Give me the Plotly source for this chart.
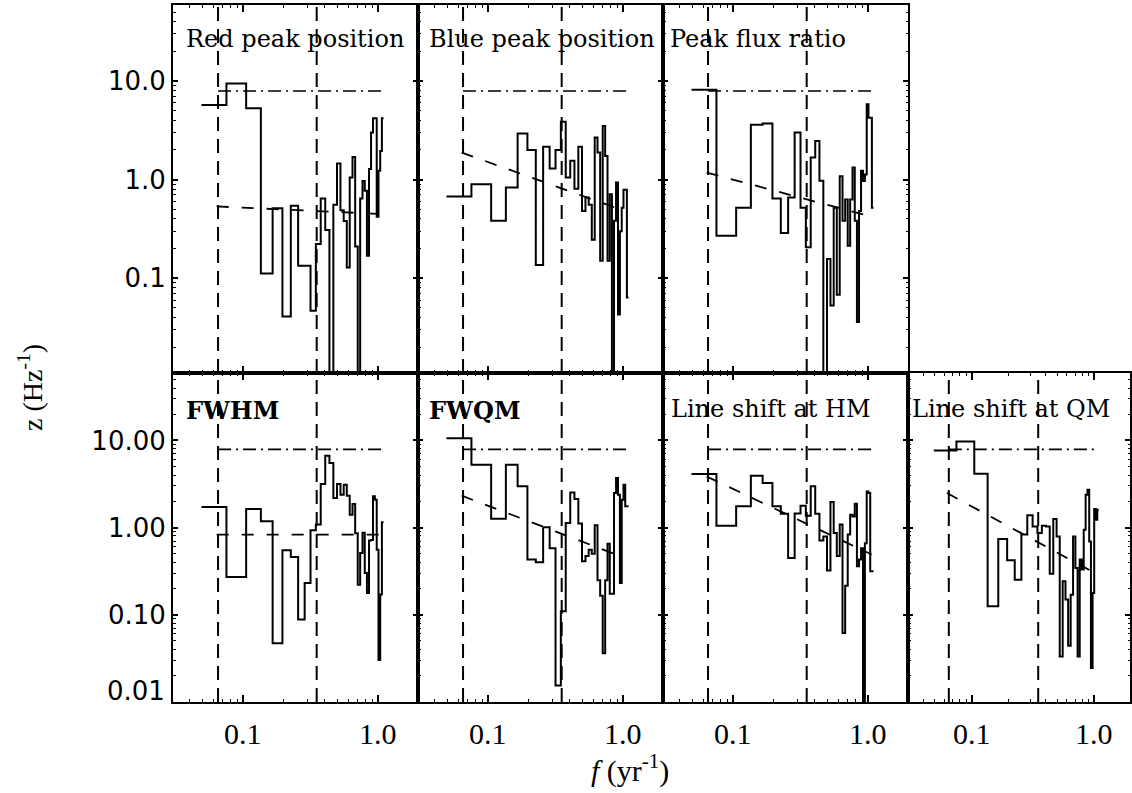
import math
import plotly.graph_objects as go

W, H = 1132, 793

# ---------------- data ----------------
freq = [0.06, 0.09, 0.12, 0.15, 0.18, 0.21, 0.24, 0.27, 0.30, 0.33,
        0.36, 0.39, 0.42, 0.45, 0.48, 0.51, 0.54, 0.57, 0.60, 0.63,
        0.66, 0.69, 0.72, 0.75, 0.78, 0.81, 0.84, 0.87, 0.90, 0.93,
        0.96, 0.99, 1.02, 1.05, 1.08]

red_peak = [5.7, 9.4, 5.3, 0.112, 0.514, 0.041, 0.543, 0.134, 0.134, 0.047,
            0.222, 0.644, 0.308, 0.004, 0.556, 1.46, 0.49, 0.38, 0.129, 1.05,
            1.70, 0.21, 0.004, 0.644, 0.97, 0.77, 0.169, 1.28, 3.0, 4.19,
            4.2, 0.42, 1.23, 1.95, 4.19]
blue_peak = [0.674, 0.90, 0.383, 0.83, 2.93, 2.0, 0.136, 2.16, 1.30, 2.0,
             3.87, 1.05, 1.55, 0.81, 2.16, 0.48, 0.66, 0.556, 0.246, 2.67,
             1.88, 0.151, 3.5, 1.74, 0.151, 0.71, 0.004, 0.383, 0.935, 0.043,
             0.30, 0.52, 0.79, 0.79, 0.064]
peak_ratio = [8.17, 0.27, 0.52, 3.59, 3.7, 0.644, 0.287, 0.66, 3.0, 0.52,
              0.206, 1.68, 2.47, 0.973, 0.004, 0.157, 0.053, 0.52, 0.068, 1.08,
              0.383, 0.63, 0.214, 0.63, 1.33, 0.383, 0.036, 0.48, 1.23, 0.97,
              1.13, 5.8, 4.25, 4.25, 0.52]
fwhm = [1.72, 0.27, 1.63, 1.18, 0.047, 0.547, 0.459, 0.088, 0.231, 0.93,
        1.08, 3.16, 6.67, 5.5, 2.18, 3.16, 2.38, 3.1, 2.32, 1.40,
        1.86, 0.86, 0.22, 0.51, 0.87, 0.30, 0.177, 0.71, 0.72, 2.28,
        2.09, 0.557, 0.030, 0.17, 1.15]
fwqm = [10.6, 5.26, 1.26, 5.26, 2.97, 0.43, 0.40, 1.01, 0.58, 0.0153,
        0.109, 1.13, 2.53, 2.12, 1.11, 0.41, 0.47, 0.557, 0.50, 1.06,
        0.248, 0.165, 0.036, 0.248, 0.65, 0.174, 0.174, 2.49, 3.7, 2.38,
        0.23, 2.08, 3.1, 1.75, 1.75]
shift_hm = [4.11, 1.05, 1.75, 3.93, 3.24, 1.75, 1.44, 0.447, 1.45, 1.78,
            1.37, 2.97, 1.44, 0.71, 0.79, 0.32, 1.96, 0.865, 0.47, 1.08,
            0.0616, 0.215, 0.83, 1.40, 1.34, 1.87, 0.358, 0.43, 0.58, 0.004,
            0.66, 2.60, 2.49, 0.314, 0.314]
shift_qm = [7.67, 9.74, 4.15, 0.125, 0.738, 0.42, 0.252, 0.83, 1.38, 1.03,
            0.865, 1.05, 1.03, 0.295, 1.25, 0.79, 0.033, 0.241, 0.149, 0.044,
            0.169, 0.79, 0.343, 0.033, 0.43, 0.33, 0.944, 2.38, 2.72, 0.69,
            0.0244, 0.177, 1.63, 1.23, 1.60]

titles = ["Red peak position", "Blue peak position", "Peak flux ratio",
          "<b>FWHM</b>", "<b>FWQM</b>", "Line shift at HM", "Line shift at QM"]
series = [red_peak, blue_peak, peak_ratio, fwhm, fwqm, shift_hm, shift_qm]

# power-law fit lines: end points (f, z)
fit_f = [[0.0635, 1.089], [0.0635, 0.946], [0.0635, 1.0], [0.0635, 1.089],
         [0.0635, 0.894], [0.0635, 1.06], [0.0627, 0.993]]
fit_z = [[0.535, 0.447], [1.88, 0.50], [1.18, 0.43], [0.83, 0.83],
         [2.32, 0.487], [3.86, 0.49], [2.49, 0.306]]

vlines_f = [0.065, 0.35]          # vertical dashed lines
level_f = [0.065, 1.09]           # dash-dot significance level
level_z = 7.9

x_ticks = [0.1, 1.0]
x_ticktext = ["0.1", "1.0"]
y_ticks_top = [0.1, 1.0, 10.0]
y_ticktext_top = ["0.1", "1.0", "10.0"]
y_ticks_bot = [0.01, 0.1, 1.0, 10.0]
y_ticktext_bot = ["", "0.10", "1.00", "10.00"]
y_label_bottom = "0.01"

# ---------------- layout geometry ----------------
col_px = [(173, 418), (418, 663), (663, 908), (908, 1130)]
row_px = [(5, 373), (373, 702)]
yranges = [(-1.96, 1.77), (-2.004, 1.775)]
xrange = (-1.521, 0.295)
panel_pos = [(0, 0), (0, 1), (0, 2), (1, 0), (1, 1), (1, 2), (1, 3)]
title_px = [(184, 39), (427, 39), (668, 39), (184, 410), (427, 410),
            (669, 409), (910, 409)]
xlabel_y_px = 733

x_minor = [0.04, 0.05, 0.06, 0.07, 0.08, 0.09, 0.2, 0.3, 0.4, 0.5, 0.6, 0.7, 0.8, 0.9]
y_minor = [m * d for d in (0.01, 0.1, 1, 10) for m in range(2, 10)]


def step_xy(f, z):
    edges = [f[0] * (f[0] / f[1]) ** 0.5]
    edges += [(a + b) / 2 for a, b in zip(f[:-1], f[1:])]
    edges += [f[-1] * (f[-1] / f[-2]) ** 0.5]
    return edges, list(z) + [z[-1]]


fig = go.Figure()
layout = dict(width=W, height=H, margin=dict(l=0, r=0, t=0, b=0, autoexpand=False),
              paper_bgcolor="white", plot_bgcolor="white", showlegend=False,
              annotations=[])

for i, ((r, c), vals) in enumerate(zip(panel_pos, series)):
    n = i + 1
    xa = "x" if n == 1 else f"x{n}"
    ya = "y" if n == 1 else f"y{n}"
    x0, x1 = col_px[c]
    y0, y1 = row_px[r]
    yr = yranges[r]
    layout["xaxis" if n == 1 else f"xaxis{n}"] = dict(
        type="log", range=list(xrange), domain=[x0 / W, x1 / W], anchor=ya,
        showline=True, linewidth=2, linecolor="black", mirror="allticks",
        ticks="inside", ticklen=7, tickwidth=1.5, tickcolor="black",
        tickvals=x_ticks, ticktext=x_ticktext, showticklabels=False,
        minor=dict(tickvals=x_minor, ticks="inside", ticklen=3, tickwidth=1,
                   tickcolor="black", showgrid=False),
        showgrid=False, zeroline=False, fixedrange=True)
    layout["yaxis" if n == 1 else f"yaxis{n}"] = dict(
        type="log", range=list(yr), domain=[1 - y1 / H, 1 - y0 / H], anchor=xa,
        showline=True, linewidth=2, linecolor="black", mirror="allticks",
        ticks="inside", ticklen=5, tickwidth=1.5, tickcolor="black",
        tickvals=y_ticks_top if r == 0 else y_ticks_bot,
        ticktext=y_ticktext_top if r == 0 else y_ticktext_bot,
        showticklabels=(c == 0), ticklabelstandoff=0,
        tickfont=dict(family="DejaVu Sans", size=26, color="black"),
        minor=dict(tickvals=y_minor, ticks="inside", ticklen=2.5, tickwidth=1,
                   tickcolor="black", showgrid=False),
        showgrid=False, zeroline=False, fixedrange=True)

    # x tick labels of the bottom row, placed through the axis scale
    if r == 1:
        for tv, tt in zip(x_ticks, x_ticktext):
            layout["annotations"].append(dict(
                text=tt, x=math.log10(tv), xref=xa, y=1 - xlabel_y_px / H,
                yref="paper", xanchor="center", yanchor="middle",
                showarrow=False,
                font=dict(family="Liberation Serif", size=30, color="black")))

    ex, ey = step_xy(freq, vals)
    fig.add_trace(go.Scatter(x=ex, y=ey, mode="lines", line_shape="hv",
                             line=dict(color="black", width=2),
                             xaxis=xa, yaxis=ya, hoverinfo="skip"))
    for vf in vlines_f:
        fig.add_trace(go.Scatter(x=[vf, vf], y=[10 ** yr[0], 10 ** yr[1]],
                                 mode="lines",
                                 line=dict(color="black", width=2, dash="14px,8px"),
                                 xaxis=xa, yaxis=ya, hoverinfo="skip"))
    fig.add_trace(go.Scatter(x=level_f, y=[level_z, level_z], mode="lines",
                             line=dict(color="black", width=1.6,
                                       dash="13px,5px,2px,5px"),
                             xaxis=xa, yaxis=ya, hoverinfo="skip"))
    fig.add_trace(go.Scatter(x=fit_f[i], y=fit_z[i], mode="lines",
                             line=dict(color="black", width=1.8, dash="12px,13px"),
                             xaxis=xa, yaxis=ya, hoverinfo="skip"))
    tx, ty = title_px[i]
    layout["annotations"].append(dict(
        text=titles[i], x=tx / W, y=1 - ty / H, xref="paper", yref="paper",
        xanchor="left", yanchor="middle", showarrow=False,
        font=dict(family="DejaVu Serif", size=24, color="black")))

# bottom-most y label sits a little above its tick in the reference
layout["annotations"].append(dict(
    text=y_label_bottom, x=167 / W, y=1 - 691 / H, xref="paper", yref="paper",
    xanchor="right", yanchor="middle", showarrow=False,
    font=dict(family="DejaVu Sans", size=26, color="black")))
layout["annotations"].append(dict(
    text="z (Hz<sup>-1</sup>)", x=30 / W, y=1 - 388 / H, xref="paper",
    yref="paper", xanchor="center", yanchor="middle", showarrow=False,
    textangle=-90, font=dict(family="Liberation Serif", size=28, color="black")))
layout["annotations"].append(dict(
    text="<i>f</i> (yr<sup>-1</sup>)", x=630 / W, y=1 - 768 / H, xref="paper",
    yref="paper", xanchor="center", yanchor="middle", showarrow=False,
    font=dict(family="Liberation Serif", size=30, color="black")))

fig.update_layout(**layout)
fig.write_html("out.html", config={"displayModeBar": False},
               post_script="document.body.style.margin='0';"
                           "document.body.style.overflow='hidden';")
